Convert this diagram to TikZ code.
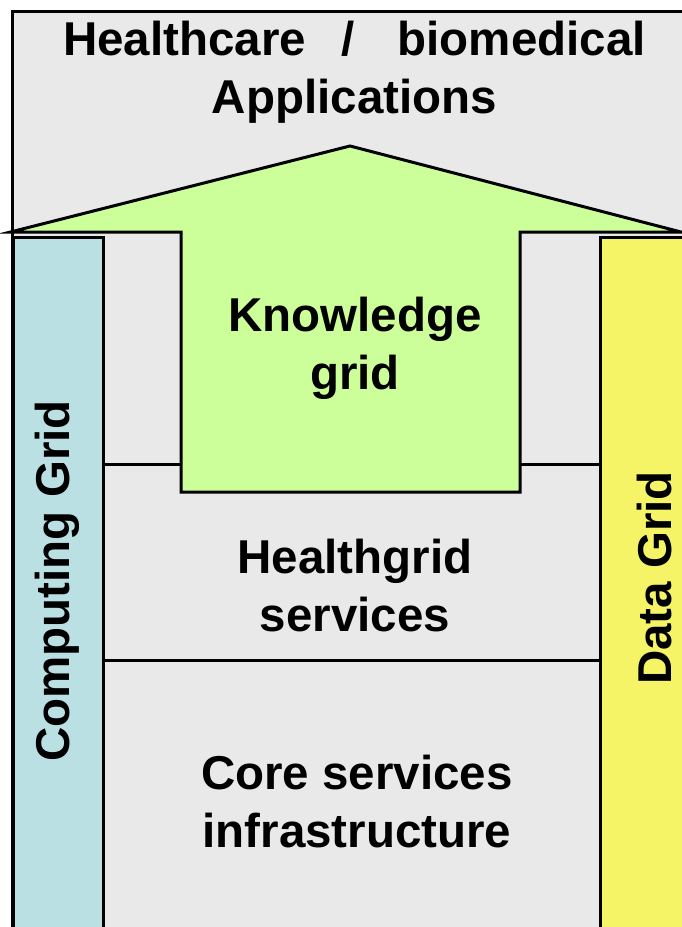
\documentclass[tikz,border=0pt]{standalone}
\usepackage{fontspec}
\setmainfont{Liberation Sans}
\definecolor{bggray}{HTML}{E9E9E9}
\definecolor{compcyan}{HTML}{BBE0E3}
\definecolor{datayellow}{HTML}{F4F466}
\definecolor{knowgreen}{HTML}{CCFF99}
\tikzset{
  layer/.style={draw=black, line width=3pt, fill=bggray, inner sep=0pt, anchor=north west},
  column/.style={draw=black, line width=3pt, inner sep=0pt, anchor=north west},
  lbl/.style={font=\fontsize{47.5}{58}\selectfont\bfseries, align=center, text=black, inner sep=0pt},
  arrowshape/.style={draw=black, line width=3pt, fill=knowgreen, line join=miter}
}
\begin{document}
\begin{tikzpicture}[x=1pt,y=-1pt]
\useasboundingbox (0,0) rectangle (681,927);
\fill[white] (0,0) rectangle (681,927);
% outer application box
\node[layer, minimum width=700pt, minimum height=950pt] (apps) at (10.5,9.5) {};
% layers
\node[layer, minimum width=498pt, minimum height=196pt] (hgs) at (101,463) {};
\node[layer, minimum width=498pt, minimum height=300pt] (core) at (101,659) {};
% columns
\node[column, fill=compcyan, minimum width=90pt, minimum height=720pt] (comp) at (11.5,236) {};
\node[column, fill=datayellow, minimum width=100pt, minimum height=720pt] (data) at (599,236) {};
% knowledge arrow
\draw[arrowshape] (181,492) -- (181,232) -- (10.5,232) -- (350,146) -- (681,232) -- (520,232) -- (520,492) -- cycle;
% texts
\node[lbl] (title) at (354.5,72) {Healthcare\hspace{0.75em}/\hspace{0.9em}biomedical\\Applications};
\node[lbl] (know) at (355,348) {Knowledge\\grid};
\node[lbl] (hgtext) at (355,586) {Healthgrid\\services};
\node[lbl] (coretext) at (357,802) {Core services\\infrastructure};
\node[lbl, rotate=90] (comptext) at (57,581) {Computing Grid};
\node[lbl, rotate=90] (datatext) at (655,578) {Data Grid};
\end{tikzpicture}
\end{document}
